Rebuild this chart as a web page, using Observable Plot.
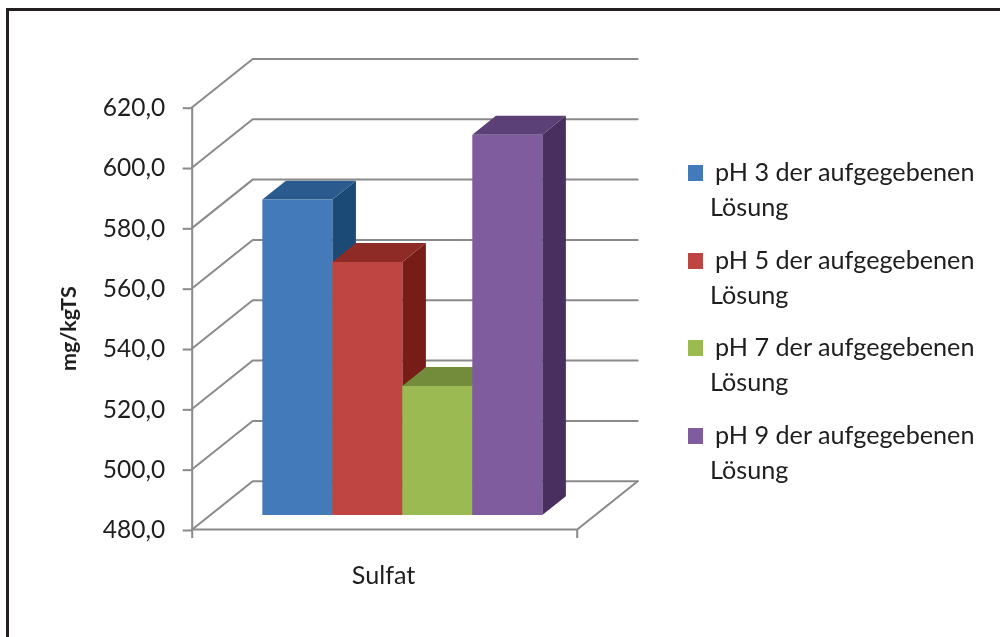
<!DOCTYPE html>
<html lang="de">
<head>
<meta charset="utf-8">
<script src="https://cdn.jsdelivr.net/npm/d3@7"></script>
<script src="https://cdn.jsdelivr.net/npm/@observablehq/plot@0.6"></script>
<style>
  html, body { margin: 0; padding: 0; background: #fff; }
  #page { position: relative; width: 1000px; height: 637px; overflow: hidden; font-family: Lato, sans-serif; color: #1e1e1e; }
  #frame { position: absolute; left: 6px; top: 8px; right: -10px; bottom: -10px; border-left: 3px solid #231f20; border-top: 3px solid #231f20; }
  #chart { position: absolute; left: 0; top: 0; }
  #chart svg, #legend { filter: blur(0.45px); }
  #legend { position: absolute; left: 0; top: 0; }
  .item { position: absolute; left: 688px; width: 300px; height: 70px; font-size: 25.2px; line-height: 35px; white-space: nowrap; }
  .swatch { position: absolute; left: 0; top: 0; width: 15px; height: 16px; }
  .l1 { position: absolute; left: 27px; top: -11px; }
  .l2 { position: absolute; left: 22px; top: 24px; }
</style>
</head>
<body>
<div id="page">
  <div id="frame"></div>
  <div id="chart"></div>
  <div id="legend"></div>
</div>
<script>
// Data
const category = "Sulfat";
const series = ["pH 3 der aufgegebenen Lösung", "pH 5 der aufgegebenen Lösung", "pH 7 der aufgegebenen Lösung", "pH 9 der aufgegebenen Lösung"];
const values = [584.6, 563.9, 522.8, 606.1];
const yTicks = [480, 500, 520, 540, 560, 580, 600, 620];
const yLabel = "mg/kgTS";

// Face colours
const frontColors = ["#437ab9", "#be4541", "#9bba52", "#7e5c9e"];
const topColors = ["#2a5a8e", "#8f2b26", "#728c3c", "#5a4077"];
const sideColors = ["#1a4a75", "#771c16", "#5d7530", "#482f5f"];

// Oblique projection of the 3D box: depth z in 0..1
const shearX = 60.5 / 385, shearY = 16;
const baseline = yTicks[0], ceiling = yTicks[yTicks.length - 1];
const px = (x, z) => x + z * shearX;
const py = (v, z) => v + z * shearY;
const pt = (x, v, z) => ({px: px(x, z), py: py(v, z)});
const barStart = 0.135, barWidth = 0.1818, z0 = 0.3, z1 = 0.69;

const grid = "#8a8a8a", gridW = 2, ink = "#1e1e1e";
const lineOpts = {x: "px", y: "py", stroke: grid, strokeWidth: gridW, strokeLinejoin: "miter"};

const marks = [];
// Walls' gridlines
for (const v of yTicks) {
  marks.push(Plot.line([pt(0, v, 0), pt(0, v, 1), pt(1, v, 1)], lineOpts));
}
// Floor's outer edge
marks.push(Plot.line([pt(1, baseline, 1), pt(1, baseline, 0), pt(0, baseline, 0)], lineOpts));
// Axes
marks.push(Plot.ruleX([0], {y1: baseline, y2: ceiling, stroke: grid, strokeWidth: gridW}));
marks.push(Plot.ruleX([0, 1], {y1: baseline, y2: baseline - 3, stroke: grid, strokeWidth: gridW}));

// Bars
values.forEach((v, i) => {
  const x0 = barStart + i * barWidth, x1 = x0 + barWidth;
  const face = (pts, fill) => Plot.line(pts, {x: "px", y: "py", fill, stroke: "none", curve: "linear-closed"});
  marks.push(face([pt(x1, v, z0), pt(x1, v, z1), pt(x1, baseline, z1), pt(x1, baseline, z0)], sideColors[i]));
  marks.push(face([pt(x0, v, z0), pt(x0, v, z1), pt(x1, v, z1), pt(x1, v, z0)], topColors[i]));
  marks.push(face([pt(x0, v, z0), pt(x1, v, z0), pt(x1, baseline, z0), pt(x0, baseline, z0)], frontColors[i]));
});

// Labels
marks.push(Plot.axisY({
  ticks: yTicks, tickFormat: d => d3.format(".1f")(d).replace(".", ","),
  tickSize: 9, tickPadding: 18, stroke: grid, strokeWidth: gridW, fill: ink, fontSize: 24.5, dy: 1, label: null
}));
marks.push(Plot.text([category], {x: 0.497, y: baseline - 15.3, text: d => d, fontSize: 25.2, fill: ink}));
marks.push(Plot.text([yLabel], {x: -0.32, y: 546.6, text: d => d, rotate: -90, fontSize: 21.5, fontWeight: "bold", fill: ink}));

const chart = Plot.plot({
  width: 1000, height: 637,
  marginTop: 106.7, marginBottom: 108, marginLeft: 191.7, marginRight: 423.3,
  style: {background: "transparent", fontFamily: "Lato, sans-serif", overflow: "visible"},
  x: {domain: [0, 1], axis: null},
  y: {domain: [baseline, ceiling], axis: null},
  marks
});
document.getElementById("chart").append(chart);

// Legend
const legend = d3.select("#legend");
series.forEach((s, i) => {
  const cut = s.lastIndexOf(" ");
  const item = legend.append("div").attr("class", "item").style("top", `${165 + i * 87.7}px`);
  item.append("div").attr("class", "swatch").style("background", frontColors[i]);
  item.append("span").attr("class", "l1").text(s.slice(0, cut));
  item.append("span").attr("class", "l2").text(s.slice(cut + 1));
});
</script>
</body>
</html>
